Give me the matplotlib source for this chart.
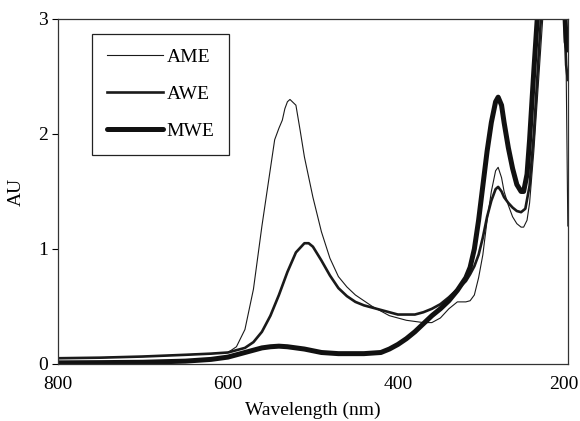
import matplotlib
matplotlib.use('Agg')
from matplotlib import pyplot as plt
from matplotlib.transforms import ScaledTranslation

plt.rcParams['font.family'] = ['Liberation Serif', 'DejaVu Serif']

ame_wl = [800, 750, 700, 650, 620, 600, 590, 580, 570, 560, 550, 545, 540, 536, 533,
          530, 527, 520, 515, 510, 500, 490, 480, 470, 460, 450, 440, 430, 420, 410,
          400, 390, 380, 370, 360, 350, 340, 330, 320, 315, 310, 305, 300, 295, 290,
          285, 282, 278, 275, 270, 265, 260, 255, 252, 248, 245, 240, 235, 230, 225,
          215, 210, 205, 203, 200]
ame = [0.05, 0.055, 0.065, 0.08, 0.09, 0.10, 0.15, 0.30, 0.65, 1.20, 1.70, 1.95, 2.05, 2.12, 2.22,
       2.28, 2.30, 2.25, 2.03, 1.80, 1.45, 1.15, 0.92, 0.76, 0.67, 0.60, 0.55, 0.50, 0.46, 0.42,
       0.40, 0.38, 0.37, 0.36, 0.36, 0.40, 0.48, 0.54, 0.54, 0.55, 0.60, 0.75, 0.95, 1.25, 1.50,
       1.68, 1.71, 1.62, 1.50, 1.38, 1.28, 1.22, 1.19, 1.19, 1.25, 1.40, 1.85, 2.40, 2.95, 3.5,
       3.8, 3.6, 3.4, 3.3, 1.2]

awe_wl = [800, 750, 700, 650, 620, 600, 590, 580, 570, 560, 550, 540, 530, 520, 510,
          505, 500, 490, 480, 470, 460, 450, 440, 430, 420, 410, 400, 390, 380, 370,
          360, 350, 340, 330, 320, 315, 310, 305, 300, 295, 290, 285, 282, 278, 275,
          270, 265, 260, 255, 250, 245, 240, 235, 230, 220, 210, 205, 202, 200]
awe = [0.05, 0.055, 0.065, 0.08, 0.09, 0.10, 0.12, 0.14, 0.19, 0.28, 0.42, 0.60, 0.80, 0.97, 1.05,
       1.05, 1.02, 0.90, 0.77, 0.66, 0.59, 0.54, 0.51, 0.49, 0.47, 0.45, 0.43, 0.43, 0.43, 0.45,
       0.48, 0.52, 0.58, 0.65, 0.72, 0.78, 0.85, 0.95, 1.10, 1.28, 1.42, 1.52, 1.54, 1.50, 1.45,
       1.40, 1.36, 1.33, 1.32, 1.35, 1.55, 2.00, 2.60, 3.2, 3.8, 3.6, 3.2, 2.6, 2.47]

mwe_wl = [800, 750, 700, 650, 620, 600, 590, 580, 570, 560, 550, 540, 530, 520, 510,
          500, 490, 480, 470, 460, 450, 440, 430, 420, 410, 400, 390, 380, 370, 360,
          350, 340, 330, 320, 315, 310, 305, 300, 295, 290, 285, 282, 278, 275, 270,
          265, 260, 255, 252, 248, 245, 240, 236, 230, 220, 210, 205, 202, 200]
mwe = [0.01, 0.012, 0.015, 0.025, 0.04, 0.06, 0.08, 0.10, 0.12, 0.14, 0.15, 0.155, 0.15, 0.14, 0.13,
       0.115, 0.10, 0.095, 0.09, 0.09, 0.09, 0.09, 0.095, 0.10, 0.13, 0.17, 0.22, 0.28, 0.35, 0.42,
       0.48, 0.55, 0.64, 0.75, 0.84, 1.0, 1.25, 1.55, 1.85, 2.10, 2.28, 2.32, 2.25, 2.10, 1.88,
       1.70, 1.56, 1.50, 1.50, 1.65, 1.95, 2.55, 3.0, 3.6, 3.9, 3.7, 3.3, 2.8, 2.73]

fig = plt.figure(figsize=(5.8, 4.21), dpi=100)
ax = fig.add_axes([0.1, 0.1354, 0.879, 0.8196])

ax.plot(ame_wl, ame, color='#1a1a1a', lw=0.8, label='AME')
ax.plot(awe_wl, awe, color='#1a1a1a', lw=1.9, label='AWE')
ax.plot(mwe_wl, mwe, color='#111111', lw=3.6, label='MWE', solid_capstyle='round')

ax.set_xlim(800, 200)
ax.set_ylim(0, 3)
ax.set_xticks([800, 600, 400, 200])
ax.set_yticks([0, 1, 2, 3])
ax.tick_params(axis='y', direction='out', length=4, width=0.8, labelsize=14, pad=3)
ax.tick_params(axis='x', direction='out', length=0, labelsize=14, pad=9)
for s in ax.spines.values():
    s.set_color('#333333')
    s.set_linewidth(0.9)

# keep the last x label inside the canvas, as in the original
last = ax.get_xticklabels()[-1]
last.set_transform(last.get_transform() + ScaledTranslation(-3 / 72, 0, fig.dpi_scale_trans))

ax.set_xlabel('Wavelength (nm)', fontsize=14, labelpad=6)
ax.set_ylabel('AU', fontsize=14, labelpad=10)

leg = ax.legend(loc='upper left', bbox_to_anchor=(0.0667, 0.9565), borderaxespad=0,
                fancybox=False, edgecolor='#222222', fontsize=14, handlelength=2.9,
                handletextpad=0.2, labelspacing=1.0, borderpad=0.75, framealpha=1)
leg.get_frame().set_linewidth(0.9)

fig.savefig('out.png', dpi=100)
